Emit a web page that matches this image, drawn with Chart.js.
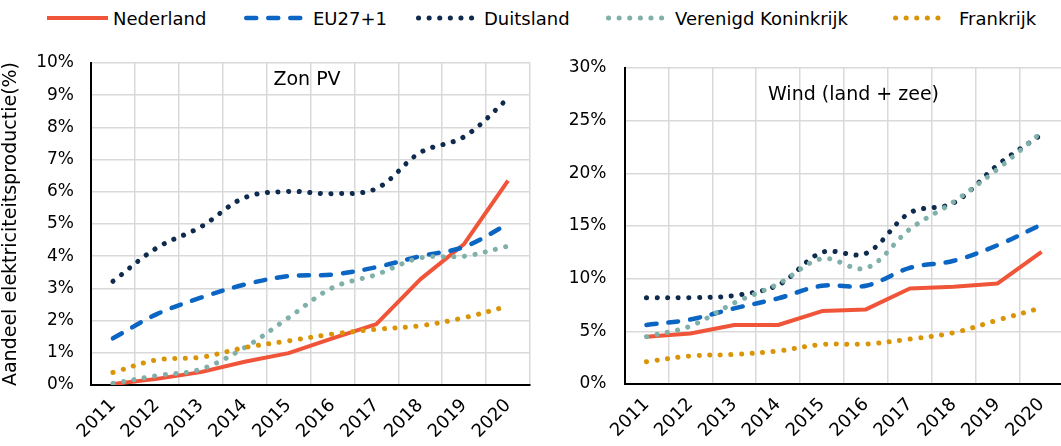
<!DOCTYPE html>
<html>
<head>
<meta charset="utf-8">
<script src="https://cdn.jsdelivr.net/npm/chart.js@4.4.1/dist/chart.umd.min.js"></script>
<style>
  html, body { margin: 0; padding: 0; background: #fff; overflow: hidden; }
  body { width: 1061px; height: 446px; position: relative; font-family: "DejaVu Sans", sans-serif; }
  canvas { position: absolute; top: 0; }
  #zon { left: 0; }
  #wind { left: 530px; }
  .key { position: absolute; top: 6px; height: 24px; display: flex; align-items: center; font-size: 18px; color: #000; white-space: nowrap; }
  .key svg { display: block; }
</style>
</head>
<body>
<div id="legend"></div>
<canvas id="zon" width="545" height="446"></canvas>
<canvas id="wind" width="545" height="446"></canvas>
<script>
// --- Data ---
const years = ['2011', '2012', '2013', '2014', '2015', '2016', '2017', '2018', '2019', '2020'];
const countries = ['Nederland', 'EU27+1', 'Duitsland', 'Verenigd Koninkrijk', 'Frankrijk'];

// share of solar PV in electricity production (%)
const zonNederland = [0.03, 0.19, 0.40, 0.72, 0.99, 1.45, 1.89, 3.28, 4.38, 6.35];
const zonEU = [1.45, 2.20, 2.71, 3.12, 3.38, 3.43, 3.66, 4.00, 4.29, 5.00];
const zonDuitsland = [3.22, 4.26, 4.91, 5.82, 6.01, 5.94, 6.10, 7.22, 7.71, 8.90];
const zonVK = [0.05, 0.29, 0.49, 1.16, 2.09, 3.02, 3.43, 3.95, 4.00, 4.31];
const zonFrankrijk = [0.39, 0.78, 0.86, 1.16, 1.37, 1.58, 1.73, 1.84, 2.09, 2.45];

// share of wind (onshore + offshore) in electricity production (%)
const windNederland = [4.49, 4.80, 5.60, 5.60, 6.92, 7.08, 9.07, 9.23, 9.55, 12.55];
const windEU = [5.60, 6.13, 7.18, 8.13, 9.33, 9.33, 11.03, 11.70, 13.18, 15.14];
const windDuitsland = [8.20, 8.20, 8.40, 9.40, 12.50, 12.40, 16.25, 17.20, 20.80, 23.70];
const windVK = [4.49, 5.50, 7.70, 9.50, 11.90, 11.00, 14.70, 17.30, 20.40, 23.90];
const windFrankrijk = [2.12, 2.66, 2.81, 3.13, 3.76, 3.79, 4.27, 4.87, 6.07, 7.24];

const zonTicks = [0, 1, 2, 3, 4, 5, 6, 7, 8, 9, 10];
const windTicks = [0, 5, 10, 15, 20, 25, 30];

// --- Styles ---
const colors = ['#f0553a', '#0b65c2', '#0e2a4d', '#7fb0aa', '#d99507'];
const widths = [4, 4.5, 5, 5, 5];
const dashes = [[], [10, 12], [0.1, 10.5], [0.1, 10.5], [0.1, 10.5]];
const tensions = [0, 0.35, 0.35, 0.35, 0.35];

// --- Legend (HTML) ---
const legendPos = [
  { line: 47, lineEnd: 108, text: 113 },
  { line: 244, lineEnd: 301, text: 313 },
  { line: 416, lineEnd: 474, text: 484 },
  { line: 606, lineEnd: 663, text: 675 },
  { line: 893, lineEnd: 947, text: 959 }
];
const legend = document.getElementById('legend');
countries.forEach((name, i) => {
  const p = legendPos[i];
  const w = p.lineEnd - p.line;
  const sw = widths[i];
  const key = document.createElement('div');
  key.className = 'key';
  key.style.left = p.line + 'px';
  const dash = dashes[i].length ? `stroke-dasharray="${dashes[i].join(' ')}"` : '';
  const cap = i === 0 ? 'butt' : 'round';
  key.innerHTML =
    `<svg width="${p.text - p.line}" height="24"><line x1="${cap === 'round' ? sw / 2 : 0}" y1="12" x2="${w}" y2="12" stroke="${colors[i]}" stroke-width="${sw}" stroke-linecap="${cap}" ${dash}/></svg><span>${name}</span>`;
  legend.appendChild(key);
});

// --- Panel title drawn inside the plot area ---
const panelTitle = {
  id: 'panelTitle',
  beforeDatasetsDraw(chart, args, opts) {
    const { ctx, chartArea } = chart;
    ctx.save();
    ctx.font = '19px "DejaVu Sans"';
    ctx.fillStyle = '#000';
    ctx.textAlign = 'center';
    ctx.textBaseline = 'middle';
    ctx.fillText(opts.text, chartArea.left + opts.dx, chartArea.top + opts.dy);
    ctx.restore();
  }
};

function makeDatasets(series) {
  return series.map((data, i) => ({
    label: countries[i],
    data: data,
    borderColor: colors[i],
    backgroundColor: colors[i],
    borderWidth: widths[i],
    borderDash: dashes[i],
    borderCapStyle: i === 0 ? 'butt' : 'round',
    borderJoinStyle: 'round',
    tension: tensions[i],
    pointRadius: 0,
    fill: false
  })).reverse();
}

function makeChart(id, series, ticks, opts) {
  return new Chart(document.getElementById(id), {
    type: 'line',
    data: { labels: years, datasets: makeDatasets(series) },
    plugins: [panelTitle],
    options: {
      responsive: false,
      animation: false,
      layout: { padding: { top: opts.top, right: opts.right, left: 0, bottom: 0 } },
      plugins: {
        legend: { display: false },
        tooltip: { enabled: false },
        panelTitle: { text: opts.title, dx: opts.titleDx, dy: opts.titleDy }
      },
      scales: {
        x: {
          offset: true,
          grid: { offset: true, color: '#d9d9d9', lineWidth: 1.5, drawTicks: false },
          border: { color: '#000', width: 2 },
          ticks: {
            color: '#000', font: { family: 'DejaVu Sans', size: 18 },
            minRotation: 45, maxRotation: 45, padding: 10
          },
          afterFit(scale) { scale.height = opts.xHeight; }
        },
        y: {
          min: ticks[0],
          max: ticks[ticks.length - 1],
          afterBuildTicks(scale) { scale.ticks = ticks.map(v => ({ value: v })); },
          grid: { color: '#d9d9d9', lineWidth: 1.5, drawTicks: false },
          border: { color: '#000', width: 2 },
          ticks: {
            color: '#000', font: { family: 'DejaVu Sans', size: 17 },
            padding: opts.tickPad,
            callback: v => v + '%'
          },
          title: {
            display: !!opts.yTitle,
            text: opts.yTitle || '',
            color: '#000',
            font: { family: 'DejaVu Sans', size: 19 },
            padding: { top: 0, bottom: 0 }
          },
          afterFit(scale) { scale.width = opts.yWidth; }
        }
      }
    }
  });
}

makeChart('zon', [zonNederland, zonEU, zonDuitsland, zonVK, zonFrankrijk], zonTicks, {
  top: 63, right: 15, xHeight: 61, yWidth: 91, tickPad: 17,
  title: 'Zon PV', titleDx: 216, titleDy: 17,
  yTitle: 'Aandeel elektriciteitsproductie(%)'
});

makeChart('wind', [windNederland, windEU, windDuitsland, windVK, windFrankrijk], windTicks, {
  top: 68, right: 11.5, xHeight: 62, yWidth: 94.5, tickPad: 18,
  title: 'Wind (land + zee)', titleDx: 229, titleDy: 27
});
</script>
</body>
</html>
